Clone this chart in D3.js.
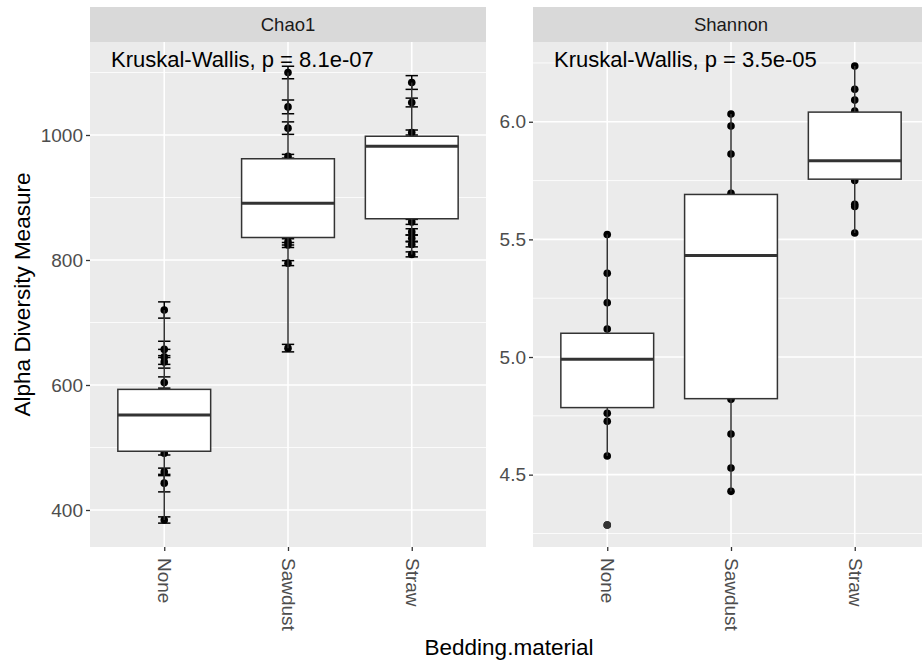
<!DOCTYPE html>
<html>
<head>
<meta charset="utf-8">
<script src="https://cdn.jsdelivr.net/npm/d3@7"></script>
<style>
  body { margin: 0; background: #fff; }
  svg { display: block; font-family: "Liberation Sans", Arial, sans-serif; }
  .axis .domain { display: none; }
</style>
</head>
<body>
<div id="chart"></div>
<script>
// categories
const categories = ["None", "Sawdust", "Straw"];

// Chao1: visible points and their standard errors
const chao1None = [720, 657, 645, 637, 604, 491, 461, 443, 384];
const chao1NoneSE = [13, 13, 12, 10, 9, 3, 6, 14, 5];
const chao1Sawdust = [1100, 1045, 1011, 966, 829, 824, 795, 659];
const chao1SawdustSE = [10, 11, 10, 3, 5, 4, 4, 6];
const chao1Straw = [1084, 1052, 1004, 861, 845, 835, 825, 809];
const chao1StrawSE = [11, 7, 4, 4, 5, 5, 4, 4];

// Chao1 box statistics (None, Sawdust, Straw)
const chao1Lower = [384, 659, 809];
const chao1Q1 = [494, 836, 866];
const chao1Median = [552, 891, 982];
const chao1Q3 = [593, 962, 998];
const chao1Upper = [720, 1100, 1084];
const chao1Outliers = [[], [], []];

// Shannon: visible points
const shannonNone = [5.521, 5.356, 5.231, 5.119, 4.761, 4.727, 4.579, 4.286];
const shannonSawdust = [6.033, 5.982, 5.863, 5.696, 4.82, 4.673, 4.528, 4.429];
const shannonStraw = [6.237, 6.138, 6.092, 6.045, 5.75, 5.649, 5.64, 5.527];

// Shannon box statistics
const shannonLower = [4.579, 4.429, 5.527];
const shannonQ1 = [4.785, 4.823, 5.756];
const shannonMedian = [4.99, 5.432, 5.834];
const shannonQ3 = [5.101, 5.691, 6.041];
const shannonUpper = [5.521, 6.033, 6.237];
const shannonOutliers = [[4.286], [], []];

// axis ticks
const chao1Ticks = [400, 600, 800, 1000];
const chao1Minor = [500, 700, 900, 1100];
const shannonTicks = [4.5, 5.0, 5.5, 6.0];
const shannonMinor = [4.25, 4.75, 5.25, 5.75, 6.25];

const width = 922, height = 662;
const panelTop = 42, panelBottom = 547, stripTop = 7;
const panelW = 396;

const svg = d3.select('#chart').append('svg')
    .attr('width', width).attr('height', height);

function drawPanel(opt) {
    const g = svg.append('g');
    const x = d3.scalePoint().domain(categories)
        .range([opt.left, opt.left + panelW]).padding(0.6);
    const step = x.step();
    const y = d3.scaleLinear().domain(opt.domain).range([panelBottom, panelTop]);

    // background
    g.append('rect').attr('x', opt.left).attr('y', panelTop)
        .attr('width', panelW).attr('height', panelBottom - panelTop)
        .attr('fill', '#EBEBEB');
    // strip
    g.append('rect').attr('x', opt.left).attr('y', stripTop)
        .attr('width', panelW).attr('height', panelTop - stripTop)
        .attr('fill', '#D9D9D9');
    g.append('text').attr('x', opt.left + panelW / 2).attr('y', (stripTop + panelTop) / 2)
        .attr('dy', '0.35em').attr('text-anchor', 'middle')
        .style('font-size', '18.5px').style('fill', '#1A1A1A').text(opt.name);

    // grid lines
    g.selectAll('.minor').data(opt.minor).enter().append('line')
        .attr('x1', opt.left).attr('x2', opt.left + panelW)
        .attr('y1', d => y(d)).attr('y2', d => y(d))
        .attr('stroke', '#fff').attr('stroke-width', 0.8);
    g.selectAll('.major').data(opt.ticks).enter().append('line')
        .attr('x1', opt.left).attr('x2', opt.left + panelW)
        .attr('y1', d => y(d)).attr('y2', d => y(d))
        .attr('stroke', '#fff').attr('stroke-width', 1.6);
    g.selectAll('.vmajor').data(categories).enter().append('line')
        .attr('x1', d => x(d)).attr('x2', d => x(d))
        .attr('y1', panelTop).attr('y2', panelBottom)
        .attr('stroke', '#fff').attr('stroke-width', 1.6);

    // points
    categories.forEach((c, i) => {
        const pts = opt.points[i];
        g.selectAll(null).data(pts).enter().append('circle')
            .attr('cx', x(c)).attr('cy', d => y(d)).attr('r', 3.8)
            .attr('fill', '#000');
        if (opt.se) {
            const se = opt.se[i];
            const cw = step * 0.1;
            pts.forEach((v, j) => {
                const eb = g.append('g').attr('stroke', '#000').attr('stroke-width', 1.5);
                eb.append('line').attr('x1', x(c)).attr('x2', x(c))
                    .attr('y1', y(v - se[j])).attr('y2', y(v + se[j]));
                eb.append('line').attr('x1', x(c) - cw / 2).attr('x2', x(c) + cw / 2)
                    .attr('y1', y(v - se[j])).attr('y2', y(v - se[j]));
                eb.append('line').attr('x1', x(c) - cw / 2).attr('x2', x(c) + cw / 2)
                    .attr('y1', y(v + se[j])).attr('y2', y(v + se[j]));
            });
        }
    });

    // boxplots
    const bw = step * 0.75;
    categories.forEach((c, i) => {
        const b = g.append('g');
        b.append('line').attr('x1', x(c)).attr('x2', x(c))
            .attr('y1', y(opt.upper[i])).attr('y2', y(opt.q3[i]))
            .attr('stroke', '#333').attr('stroke-width', 1.5);
        b.append('line').attr('x1', x(c)).attr('x2', x(c))
            .attr('y1', y(opt.q1[i])).attr('y2', y(opt.lower[i]))
            .attr('stroke', '#333').attr('stroke-width', 1.5);
        b.append('rect').attr('x', x(c) - bw / 2).attr('y', y(opt.q3[i]))
            .attr('width', bw).attr('height', y(opt.q1[i]) - y(opt.q3[i]))
            .attr('fill', '#fff').attr('stroke', '#333').attr('stroke-width', 1.5);
        b.append('line').attr('x1', x(c) - bw / 2).attr('x2', x(c) + bw / 2)
            .attr('y1', y(opt.median[i])).attr('y2', y(opt.median[i]))
            .attr('stroke', '#333').attr('stroke-width', 3);
        b.selectAll(null).data(opt.outliers[i]).enter().append('circle')
            .attr('cx', x(c)).attr('cy', d => y(d)).attr('r', 3.8).attr('fill', '#333');
    });

    // axes
    const yAxis = d3.axisLeft(y).tickValues(opt.ticks).tickSize(4).tickPadding(3)
        .tickFormat(opt.format);
    const ya = g.append('g').attr('class', 'axis').attr('transform', `translate(${opt.left},0)`).call(yAxis);
    ya.selectAll('line').attr('stroke', '#333').attr('stroke-width', 1.3);
    ya.selectAll('text').style('font-size', '19px').style('fill', '#4D4D4D');

    const xAxis = d3.axisBottom(x).tickSize(4).tickPadding(0);
    const xa = g.append('g').attr('class', 'axis').attr('transform', `translate(0,${panelBottom})`).call(xAxis);
    xa.selectAll('line').attr('stroke', '#333').attr('stroke-width', 1.3);
    xa.selectAll('text').style('font-size', '19px').style('fill', '#4D4D4D')
        .attr('transform', 'rotate(90)')
        .attr('text-anchor', 'start').attr('x', 11).attr('y', 0).attr('dy', '0.35em');

    // Kruskal-Wallis label
    g.append('text').attr('x', opt.left + 21).attr('y', 67)
        .style('font-size', '22px').style('fill', '#000').text(opt.label);
}

drawPanel({
    name: 'Chao1', left: 90, domain: [340.8, 1148.8],
    ticks: chao1Ticks, minor: chao1Minor, format: d3.format('d'),
    points: [chao1None, chao1Sawdust, chao1Straw],
    se: [chao1NoneSE, chao1SawdustSE, chao1StrawSE],
    lower: chao1Lower, q1: chao1Q1, median: chao1Median, q3: chao1Q3, upper: chao1Upper,
    outliers: chao1Outliers,
    label: 'Kruskal-Wallis, p = 8.1e-07'
});

drawPanel({
    name: 'Shannon', left: 533, domain: [4.1925, 6.339],
    ticks: shannonTicks, minor: shannonMinor, format: d3.format('.1f'),
    points: [shannonNone, shannonSawdust, shannonStraw],
    se: null,
    lower: shannonLower, q1: shannonQ1, median: shannonMedian, q3: shannonQ3, upper: shannonUpper,
    outliers: shannonOutliers,
    label: 'Kruskal-Wallis, p = 3.5e-05'
});

// axis titles
svg.append('text').attr('transform', `translate(30,${(panelTop + panelBottom) / 2}) rotate(-90)`)
    .attr('text-anchor', 'middle').style('font-size', '22.5px').style('fill', '#000')
    .text('Alpha Diversity Measure');
svg.append('text').attr('x', 509).attr('y', 655)
    .attr('text-anchor', 'middle').style('font-size', '22.5px').style('fill', '#000')
    .text('Bedding.material');
</script>
</body>
</html>
